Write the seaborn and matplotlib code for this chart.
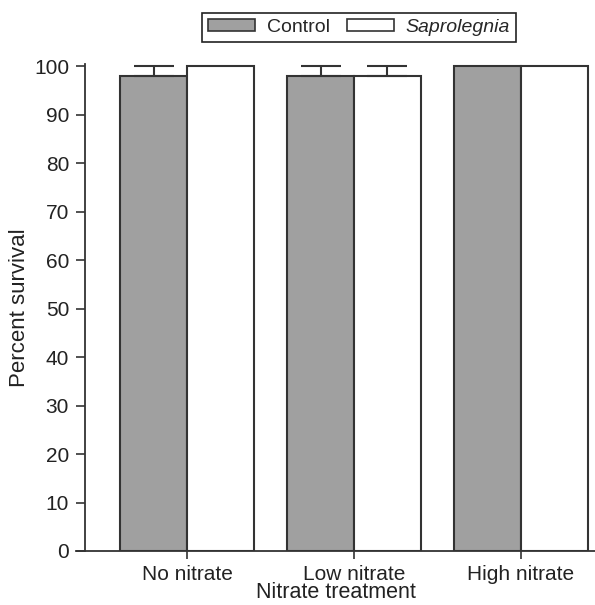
import matplotlib
matplotlib.use('Agg')
import matplotlib.pyplot as plt
import pandas as pd
import seaborn as sns

# values
treatments = ['No nitrate', 'Low nitrate', 'High nitrate']
groups = ['Control', 'Saprolegnia']
control_mean = [98, 98, 100]
sap_mean = [100, 98, 100]
control_err = [2, 2, 0]
sap_err = [0, 2, 0]

df = pd.DataFrame({
    'treatment': treatments * 2,
    'group': ['Control'] * 3 + ['Saprolegnia'] * 3,
    'survival': control_mean + sap_mean,
    'err': control_err + sap_err,
})

sns.set_style('ticks')
plt.rcParams['font.family'] = ['Liberation Sans', 'DejaVu Sans']

fig = plt.figure(figsize=(5.95, 6.05), dpi=100)
ax = fig.add_axes([76 / 595, (605 - 551) / 605, 519 / 595, (551 - 63.5) / 605])

edge = '#333333'
sns.barplot(data=df, x='treatment', y='survival', hue='group', order=treatments,
            hue_order=groups, palette={'Control': '#a0a0a0', 'Saprolegnia': 'white'},
            edgecolor=edge, linewidth=1.5, errorbar=None, width=0.8, saturation=1,
            ax=ax, legend=False)

# upward-only error bars at the bar centres
for bars, g in zip(ax.containers, groups):
    sub = df[df['group'] == g].set_index('treatment').loc[treatments]
    for rect, m, e in zip(bars, sub['survival'], sub['err']):
        if e > 0:
            xc = rect.get_x() + rect.get_width() / 2
            ax.errorbar(xc, m, yerr=[[0], [e]], color=edge, lw=1.5,
                        capsize=14.5, capthick=1.5, fmt='none')

ax.set_xlim(-0.665, 2.443)
ax.set_ylim(0, 100.6)
sns.despine(ax=ax)
ax.spines['left'].set_position(('data', -0.611))
for s in ('left', 'bottom'):
    ax.spines[s].set_color(edge)
    ax.spines[s].set_linewidth(1.3)

ax.set_yticks(range(0, 101, 10))
ax.tick_params(axis='y', length=6.5, width=1.2, color=edge, labelsize=15,
               labelcolor='#222222', pad=5)
ax.tick_params(axis='x', length=6, width=1.2, color=edge, labelsize=15,
               labelcolor='#222222', pad=4)
ax.set_xlabel('Nitrate treatment', fontsize=15.5, color='#222222', labelpad=-1)
ax.set_ylabel('Percent survival', fontsize=16, color='#222222', labelpad=3)

handles = [plt.Rectangle((0, 0), 1, 1, facecolor='#a0a0a0', edgecolor=edge, lw=1.2),
           plt.Rectangle((0, 0), 1, 1, facecolor='white', edgecolor=edge, lw=1.2)]
leg = fig.legend(handles, groups, loc='center', bbox_to_anchor=(359 / 595, 1 - 27.5 / 605),
                 ncol=2, fontsize=14, frameon=True, fancybox=False, framealpha=1,
                 edgecolor='#222222', handlelength=2.4, handleheight=0.55,
                 columnspacing=0.9, handletextpad=0.6, borderpad=0.3, borderaxespad=0)
leg.get_frame().set_linewidth(1.2)
leg.get_texts()[1].set_fontstyle('italic')

fig.savefig('out.png', dpi=100)
